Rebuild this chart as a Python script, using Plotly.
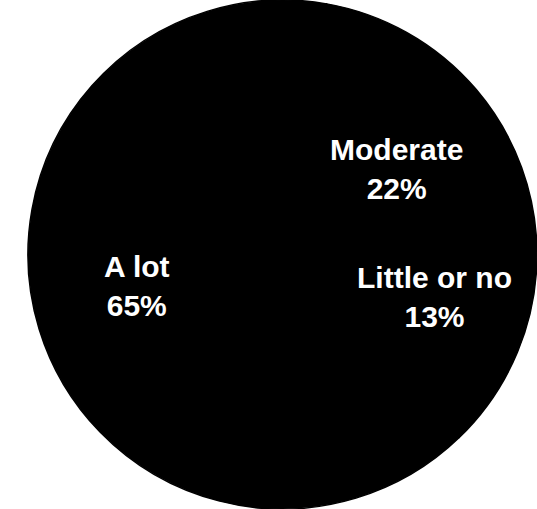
import math
import plotly.graph_objects as go

# Data
categories = ["Moderate", "Little or no", "A lot"]
percents = [22, 13, 65]

# Style
slice_colors = ["#000000", "#000000", "#000000"]
rotation_deg = 10
label_radius = [0.56, 0.62, 0.583]
label_angle_nudge = [3.5, -7.0, 4.7]
W, H = 537, 509
dom_x = [0.052, 1.0]
dom_y = [0.0, 1.0]

fig = go.Figure(go.Pie(
    labels=categories,
    values=percents,
    sort=False,
    direction="clockwise",
    rotation=rotation_deg,
    marker=dict(colors=slice_colors, line=dict(width=1.5, color="#000000")),
    textinfo="none",
    hoverinfo="skip",
    showlegend=False,
    domain=dict(x=dom_x, y=dom_y),
))

# Pie geometry in pixels (computed from domain)
dw = (dom_x[1] - dom_x[0]) * W
dh = (dom_y[1] - dom_y[0]) * H
cx = (dom_x[0] + dom_x[1]) / 2 * W
cy = H - (dom_y[0] + dom_y[1]) / 2 * H
r = min(dw, dh) / 2

total = sum(percents)
cum = 0
annotations = []
for cat, val, f, nudge in zip(categories, percents, label_radius, label_angle_nudge):
    mid = rotation_deg + (cum + val / 2) / total * 360 + nudge
    cum += val
    a = math.radians(mid)
    px = cx + f * r * math.sin(a)
    py = cy - f * r * math.cos(a)
    pct = round(val / total * 100)
    annotations.append(dict(
        x=px / W, y=1 - py / H, xref="paper", yref="paper",
        text=f"{cat}<br>{pct}%", showarrow=False,
        xanchor="center", yanchor="middle", align="center",
        font=dict(family="Arial, Liberation Sans, sans-serif", size=30,
                  color="white", weight="bold"),
    ))

fig.update_layout(
    width=W, height=H,
    margin=dict(l=0, r=0, t=0, b=0),
    paper_bgcolor="white",
    plot_bgcolor="white",
    annotations=annotations,
)

fig.write_html("out.html")
